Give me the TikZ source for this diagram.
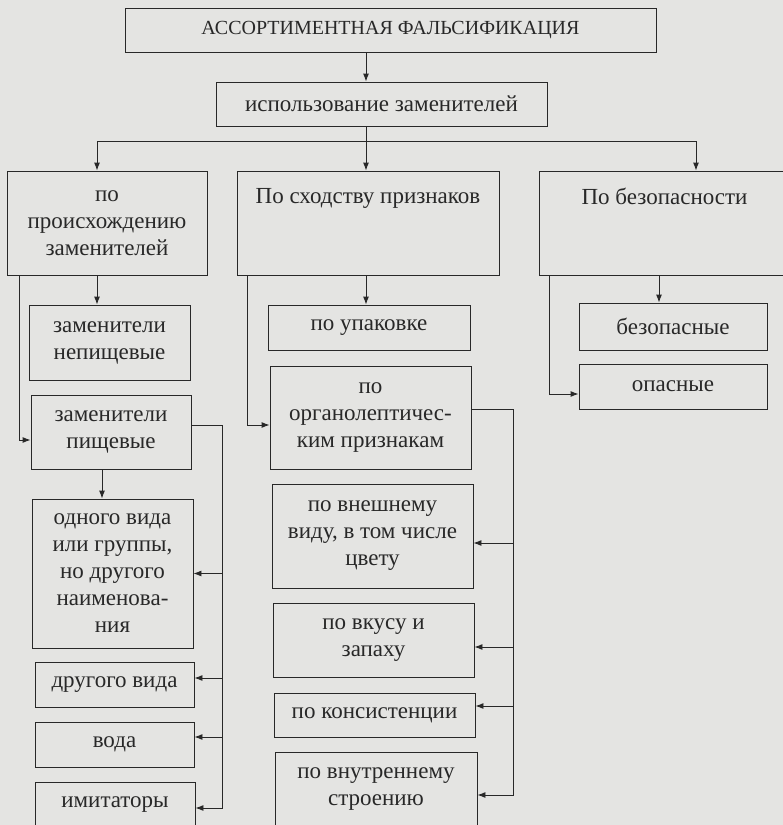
\documentclass[tikz,border=0pt]{standalone}
\usepackage{fontspec}
\setmainfont{Liberation Serif}
\usetikzlibrary{arrows.meta,positioning,calc}
\definecolor{PaperGray}{RGB}{228,228,226}
\definecolor{InkGray}{RGB}{40,40,40}

\begin{document}
\begin{tikzpicture}[x=1pt,y=-1pt,
  box/.style 2 args={draw=InkGray,line width=0.9pt,align=center,inner sep=2pt,
    minimum width=#1pt,minimum height=#2pt,text=InkGray,
    font=\fontsize{23}{27}\selectfont},
  link/.style={draw=InkGray,line width=0.9pt},
  arr/.style={link,-{Latex[length=8pt,width=6pt]}}]
  \useasboundingbox (0,0) rectangle (783,825);
  \clip (0,0) rectangle (783,825);
  \fill[PaperGray] (0,0) rectangle (783,825);

  % top of the tree
  \node[box={531}{44},font=\fontsize{20}{24}\selectfont] (falsif) at (390.5,30) {АССОРТИМЕНТНАЯ ФАЛЬСИФИКАЦИЯ};
  \node[box={331}{44}] (usage) at (381.5,104) {использование заменителей};

  % three branches
  \node[box={200}{104}] (origin) at (107,223) {по\\происхождению\\заменителей};
  \node[box={262}{104}] (similar) at (368,223) {По сходству признаков\\~\\~};
  \node[box={251}{104}] (safety) at (664.5,223) {По безопасности\\~\\~};

  % left column
  \node[box={161}{75}] (nonfood) at (109.5,342.5) {заменители\\непищевые};
  \node[box={160}{74}] (food) at (111,432) {заменители\\пищевые};
  \node[box={161}{149}] (samekind) at (112.5,573.5) {одного вида\\или группы,\\но другого\\наименова-\\ния};
  \node[box={159}{45}] (otherkind) at (114.5,684.5) {другого вида};
  \node[box={159}{45}] (water) at (114.5,744.5) {вода};
  \node[box={160}{45}] (imitators) at (115,804.5) {имитаторы};

  % middle column
  \node[box={202}{45}] (pack) at (369,327.5) {по упаковке};
  \node[box={201}{103}] (organo) at (370.5,417.5) {по\\органолептичес-\\ким признакам};
  \node[box={201}{104}] (look) at (372.5,536) {по внешнему\\виду, в том числе\\цвету};
  \node[box={201}{74}] (taste) at (373.5,640) {по вкусу и\\запаху};
  \node[box={201}{44}] (texture) at (374.5,715) {по консистенции};
  \node[box={202}{74}] (inner) at (376,789) {по внутреннему\\строению};

  % right column
  \node[box={188}{47}] (safe) at (673,326.5) {безопасные};
  \node[box={188}{45}] (danger) at (673,386.5) {опасные};

  \coordinate (trunk) at (366,141);
  \coordinate (busL) at (97,141);
  \coordinate (busR) at (696,141);
  \coordinate (foodbus) at (222,425);
  \coordinate (organobus) at (513,409);

  \draw[arr] (falsif.south -| trunk) -- (usage.north -| trunk);
  \draw[link] (usage.south -| trunk) -- (trunk);
  \draw[link] (busL) -- (busR);
  \draw[arr] (busL) -- (origin.north -| busL);
  \draw[arr] (trunk) -- (similar.north -| trunk);
  \draw[arr] (busR) -- (safety.north -| busR);

  % origin of substitutes
  \draw[arr] (origin.south -| busL) -- (nonfood.north -| busL);
  \draw[arr] ([xshift=13pt]origin.south west) |- ([yshift=-8pt]food.west);
  \draw[arr] ([xshift=-9pt]food.south) -- ([xshift=-9pt]food.south |- samekind.north);
  \draw[link] ([yshift=7pt]food.east) -- (foodbus);
  \draw[arr] (foodbus) |- ([yshift=-3.5pt]imitators.east);
  \foreach \n/\s in {samekind/0,otherkind/6.5,water/7.5}{
    \coordinate (tip) at ([yshift=\s pt]\n.east);
    \draw[arr] (foodbus |- tip) -- (tip);
  }

  % similarity of features
  \draw[arr] (similar.south -| trunk) -- (pack.north -| trunk);
  \draw[arr] ([xshift=11pt]similar.south west) |- ([yshift=-7.5pt]organo.west);
  \draw[link] ([yshift=8.5pt]organo.east) -- (organobus);
  \draw[arr] (organobus) |- ([yshift=-6pt]inner.east);
  \foreach \n/\s in {look/-7,taste/-7,texture/9}{
    \coordinate (tip) at ([yshift=\s pt]\n.east);
    \draw[arr] (organobus |- tip) -- (tip);
  }

  % safety
  \draw[arr] ([xshift=-5.5pt]safety.south) -- ([xshift=-5.5pt]safety.south |- safe.north);
  \draw[arr] ([xshift=11pt]safety.south west) |- ([yshift=-7.5pt]danger.west);
\end{tikzpicture}
\end{document}
